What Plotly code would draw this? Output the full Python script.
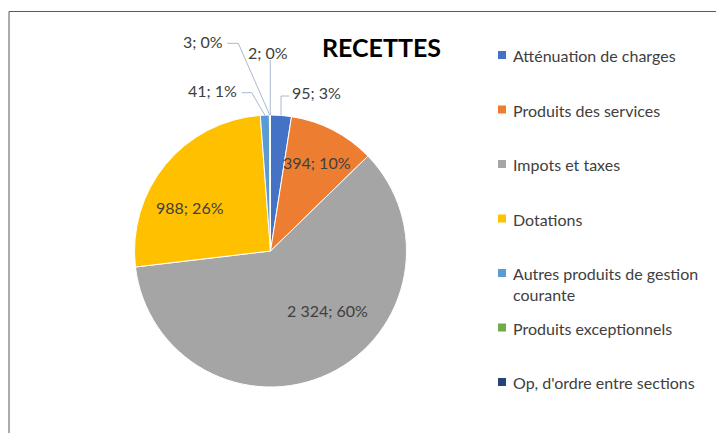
import math
import plotly.graph_objects as go

categories = ["Atténuation de charges", "Produits des services", "Impots et taxes", "Dotations",
              "Autres produits de gestion courante", "Produits exceptionnels",
              "Op, d'ordre entre sections"]
legend_labels = ["Atténuation de charges", "Produits des services", "Impots et taxes", "Dotations",
                 "Autres produits de gestion<br>courante", "Produits exceptionnels",
                 "Op, d'ordre entre sections"]
values = [95, 394, 2324, 988, 41, 3, 2]
pourcentages = [3, 10, 60, 26, 1, 0, 0]  # tels qu'affichés sur le graphique
colors = ["#4472C4", "#ED7D31", "#A5A5A5", "#FFC000", "#5B9BD5", "#70AD47", "#264478"]

W, H = 724, 433
OFF = 8  # default body margin of the html page
cx, cy, R = 270.5, 251, 136
FONT = "Lato"
TXT = "#404040"
LEADER = "#A9B8CF"


def px(x):
    return (x - OFF) / W


def py(y):
    return 1 - (y - OFF) / H


def edge_point(i):
    # point on the pie edge at the middle of slice i (clockwise from 12 o'clock)
    total = sum(values)
    start = sum(values[:i]) / total * 360
    mid = math.radians(start + values[i] / total * 180)
    return cx + R * math.sin(mid), cy - R * math.cos(mid)


texts = [f"{v:,}".replace(",", " ") + f"; {p}%" for v, p in zip(values, pourcentages)]

fig = go.Figure()
fig.add_trace(go.Pie(labels=categories, values=values, sort=False, direction="clockwise",
                     rotation=0, textinfo="none", hoverinfo="label+value+percent",
                     marker=dict(colors=colors, line=dict(color="white", width=1)),
                     domain=dict(x=[px(cx - R), px(cx + R)], y=[py(cy + R), py(cy - R)]),
                     showlegend=False))

annotations = []
shapes = []

# labels inside the big slices
inside = {1: (317, 162), 2: (327, 310), 3: (190, 207)}
for i, (x, y) in inside.items():
    annotations.append(dict(x=px(x), y=py(y), xref="paper", yref="paper", text=texts[i],
                            xanchor="center", yanchor="middle", showarrow=False,
                            font=dict(family=FONT, size=16, color=TXT)))

# labels outside with leader lines: (elbow points, text x, text y, anchor)
outside = {
    0: ([(None, 96), (289, 96)], 290, 92, "left"),
    4: ([(251.7, 92.7), (241.7, 92.7)], 239, 91, "right"),
    5: ([(238.3, 43.3), (227.3, 43.3)], 225, 41, "right"),
    6: ([(None, 60)], 268, 52, "center"),
}
for i, (pts, tx, ty, anchor) in outside.items():
    ex, ey = edge_point(i)
    path = [(ex, ey)] + [(ex if x is None else x, y) for x, y in pts]
    d = "M " + " L ".join(f"{px(x)},{py(y)}" for x, y in path)
    shapes.append(dict(type="path", path=d, xref="paper", yref="paper",
                       line=dict(color=LEADER, width=1)))
    annotations.append(dict(x=px(tx), y=py(ty), xref="paper", yref="paper", text=texts[i],
                            xanchor=anchor, yanchor="middle", showarrow=False,
                            font=dict(family=FONT, size=16, color=TXT)))

# legend drawn on the right
leg_y0, leg_dy = 55, 54.5
for i, lab in enumerate(legend_labels):
    yc = leg_y0 + i * leg_dy
    shapes.append(dict(type="rect", xref="paper", yref="paper",
                       x0=px(498), x1=px(506), y0=py(yc + 4), y1=py(yc - 4),
                       fillcolor=colors[i], line=dict(width=0)))
    annotations.append(dict(x=px(511), y=py(yc - 11), xref="paper", yref="paper", text=lab,
                            xanchor="left", yanchor="top", align="left", showarrow=False,
                            font=dict(family=FONT, size=16, color=TXT)))

# frame of the chart area
shapes.append(dict(type="line", xref="paper", yref="paper", x0=px(9), x1=1, y0=py(11.5),
                   y1=py(11.5), line=dict(color="#595959", width=1)))
shapes.append(dict(type="line", xref="paper", yref="paper", x0=px(9), x1=px(9), y0=py(11.5),
                   y1=0, line=dict(color="#595959", width=1)))

annotations.append(dict(x=px(381), y=py(47), xref="paper", yref="paper", text="<b>RECETTES</b>",
                        xanchor="center", yanchor="middle", showarrow=False,
                        font=dict(family=FONT, size=25, color="black")))

fig.update_layout(width=W, height=H, margin=dict(l=0, r=0, t=0, b=0),
                  paper_bgcolor="white", plot_bgcolor="white",
                  annotations=annotations, shapes=shapes, showlegend=False)
fig.write_html("out.html")
